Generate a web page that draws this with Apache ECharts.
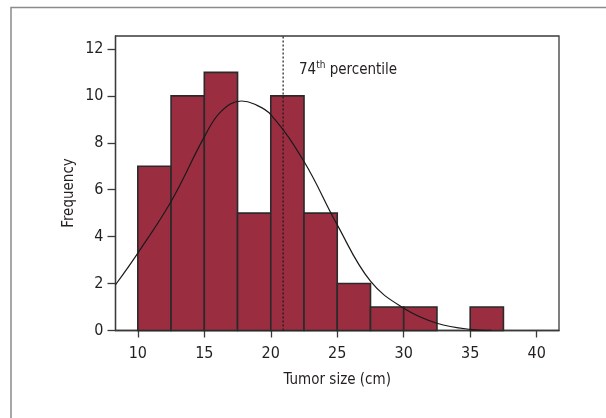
<!DOCTYPE html>
<html>
<head>
<meta charset="utf-8">
<script src="https://cdn.jsdelivr.net/npm/echarts@6/dist/echarts.min.js"></script>
<style>html,body{margin:0;padding:0;background:#fff}#c{width:606px;height:418px}</style>
</head>
<body>
<div id="c"></div>
<script>
// ---- data ----
var binEdges = [10, 12.5, 15, 17.5, 20, 22.5, 25, 27.5, 30, 32.5, 35, 37.5];
var counts = [7, 10, 11, 5, 10, 5, 2, 1, 1, 0, 1];
var curveX = [8.32, 10, 12.5, 15, 16.25, 17.8, 18.75, 20, 22.5, 25, 27.5, 30, 32.5, 35, 36.6];
var curveY = [1.95, 3.3, 5.5, 8.25, 9.33, 9.78, 9.65, 9.2, 7.2, 4.5, 2.1, 0.95, 0.31, 0.05, 0.01];
var percentile74 = 20.93;
var xTicks = [10, 15, 20, 25, 30, 35, 40];
var yTicks = [0, 2, 4, 6, 8, 10, 12];
var xRange = [8.32, 41.68];
var yRange = [0, 12.55];

var FONT = "'DejaVu Sans Condensed', 'Liberation Sans Narrow', sans-serif";
var TXT = '#231f20';
var AX = '#3a3a3a';

var bars = [];
for (var i = 0; i < counts.length; i++) {
  if (counts[i] > 0) bars.push([binEdges[i], binEdges[i + 1], counts[i]]);
}
var curve = curveX.map(function (x, i) { return [x, curveY[i]]; });

var chart = echarts.init(document.getElementById('c'), null, {renderer: 'canvas'});
chart.setOption({
  animation: false,
  backgroundColor: '#fff',
  grid: {left: 115.5, right: 47, top: 36, bottom: 87.5, show: true, borderColor: AX, borderWidth: 1.3, backgroundColor: 'transparent'},
  xAxis: {
    type: 'value', min: xRange[0], max: xRange[1],
    splitLine: {show: false},
    axisLine: {show: true, onZero: false, lineStyle: {color: AX, width: 1.3}},
    axisTick: {show: true, length: 7, customValues: xTicks, lineStyle: {color: AX, width: 1.3}},
    axisLabel: {customValues: xTicks, margin: 15, color: TXT, fontFamily: FONT, fontSize: 16},
    name: 'Tumor size (cm)', nameLocation: 'middle', nameGap: 42,
    nameTextStyle: {color: TXT, fontFamily: FONT, fontSize: 15}
  },
  yAxis: {
    type: 'value', min: yRange[0], max: yRange[1],
    splitLine: {show: false},
    axisLine: {show: true, lineStyle: {color: AX, width: 1.3}},
    axisTick: {show: true, length: 8, customValues: yTicks, lineStyle: {color: AX, width: 1.3}},
    axisLabel: {customValues: yTicks, margin: 12, color: TXT, fontFamily: FONT, fontSize: 16}
  },
  graphic: [
    {type: 'polyline', silent: true, shape: {points: [[11, 418], [11, 7.5], [606, 7.5]]},
     style: {stroke: '#8a8a8a', lineWidth: 1.5, fill: null}},
    {type: 'text', x: 69, y: 193, rotation: Math.PI / 2,
     style: {text: 'Frequency', fill: TXT, font: '15px ' + FONT, align: 'center', verticalAlign: 'middle'}},
    {type: 'text', x: 299, y: 60,
     style: {text: '{a|74}{b|th}{a| percentile}', fill: TXT,
       rich: {a: {fontFamily: FONT, fontSize: 15, lineHeight: 20, fill: TXT},
              b: {fontFamily: FONT, fontSize: 10, lineHeight: 12, verticalAlign: 'top', fill: TXT}}}}
  ],
  series: [
    {
      type: 'custom', data: bars, z: 2,
      renderItem: function (params, api) {
        var p0 = api.coord([api.value(0), 0]);
        var p1 = api.coord([api.value(1), api.value(2)]);
        return {type: 'rect', shape: {x: p0[0], y: p1[1], width: p1[0] - p0[0], height: p0[1] - p1[1]},
          style: {fill: '#9b2d41', stroke: '#2a2a2a', lineWidth: 1.6}};
      }
    },
    {
      type: 'line', data: [[percentile74, yRange[0]], [percentile74, yRange[1]]], z: 3,
      symbol: 'none', lineStyle: {color: '#1a1a1a', width: 1.2, type: [2, 2]}
    },
    {
      type: 'line', data: curve, smooth: 0.4, z: 4,
      symbol: 'none', lineStyle: {color: '#1a1a1a', width: 1.2}
    }
  ]
});
</script>
</body>
</html>
